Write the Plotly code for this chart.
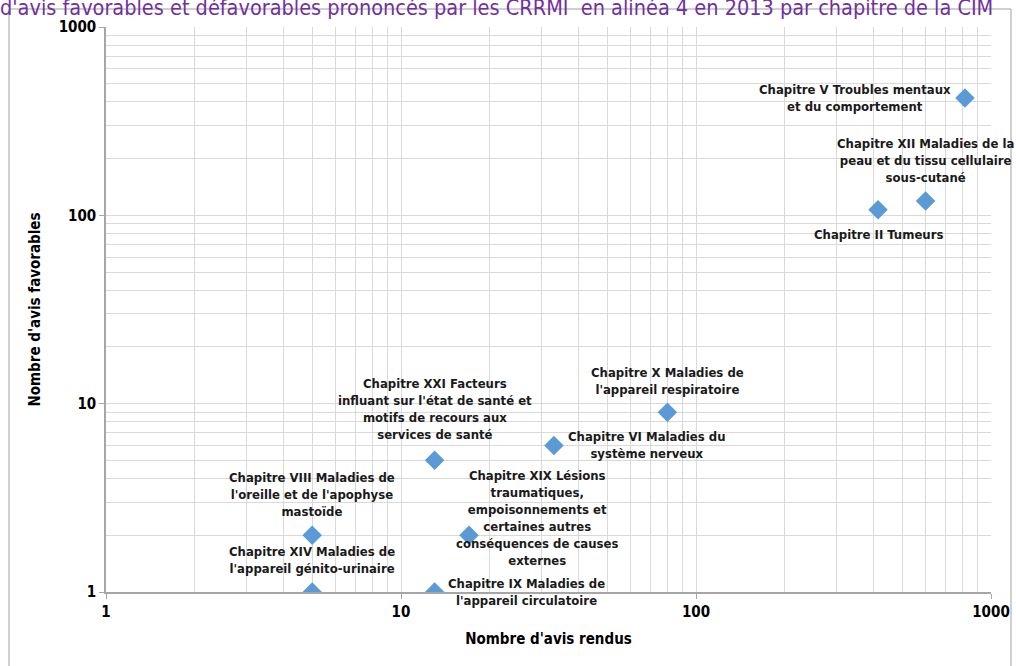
import plotly.graph_objects as go
import numpy as np

labels = [
    "Chapitre V Troubles mentaux<br>et du comportement",
    "Chapitre XII Maladies de la<br>peau et du tissu cellulaire<br>sous-cutané",
    "Chapitre II Tumeurs",
    "Chapitre X Maladies de<br>l'appareil respiratoire",
    "Chapitre VI Maladies du<br>système nerveux",
    "Chapitre XXI Facteurs<br>influant sur l'état de santé et<br>motifs de recours aux<br>services de santé",
    "Chapitre XIX Lésions<br>traumatiques,<br>empoisonnements et<br>certaines autres<br>conséquences de causes<br>externes",
    "Chapitre VIII Maladies de<br>l'oreille et de l'apophyse<br>mastoïde",
    "Chapitre XIV Maladies de<br>l'appareil génito-urinaire",
    "Chapitre IX Maladies de<br>l'appareil circulatoire",
]
avis_rendus = [816, 600, 414, 80, 33, 13, 17, 5, 5, 13]
avis_favorables = [420, 119, 107, 9, 6, 5, 2, 2, 1, 1]

# label offsets in pixels (xshift, yshift)
offsets = [(-110, 0), (0, 41), (0, -25), (0, 31), (93, 0), (0, 51), (68, 17), (0, 41), (0, 32), (92, 0)]

FONT = "DejaVu Sans Condensed, Arial Narrow, sans-serif"
GRID = "#D9D9D9"
AXIS = "#A6A6A6"

fig = go.Figure()
fig.add_trace(go.Scatter(
    x=avis_rendus, y=avis_favorables, mode="markers",
    marker=dict(symbol="diamond", size=15, color="#5B9BD5"),
    hoverinfo="text", text=labels, showlegend=False,
))

for lab, xv, yv, (dx, dy) in zip(labels, avis_rendus, avis_favorables, offsets):
    fig.add_annotation(
        x=np.log10(xv), y=np.log10(yv), xref="x", yref="y", text=lab,
        showarrow=False, xshift=dx, yshift=dy, align="center",
        font=dict(family=FONT, size=13, color="#1a1a1a", weight="bold"),
    )

fig.add_annotation(
    text="d'avis favorables et défavorables prononcés par les CRRMI  en alinéa 4 en 2013 par chapitre de la CIM",
    xref="paper", yref="paper", x=(-2 - 106) / 885, y=1 + (27 - 22) / 565,
    xanchor="left", yanchor="bottom", showarrow=False,
    font=dict(family=FONT, size=21.5, color="#7030A0"),
)

fig.add_shape(type="rect", xref="paper", yref="paper",
              x0=(9 - 106) / 885, x1=(1011 - 106) / 885,
              y0=-0.3, y1=1 + (27 - 9) / 565,
              line=dict(color="#A0A0A0", width=1))

axis_common = dict(
    type="log", range=[0, 3], dtick=1, automargin=False,
    showgrid=True, gridcolor=GRID, gridwidth=1,
    minor=dict(showgrid=True, gridcolor=GRID, dtick="D1", ticks=""),
    showline=True, linecolor=AXIS, linewidth=1.5,
    ticks="outside", ticklen=5, tickcolor=AXIS,
    tickfont=dict(family=FONT, size=15, color="#000000", weight="bold"),
    zeroline=False,
)

fig.update_xaxes(**axis_common,
                 title=dict(text="Nombre d'avis rendus", standoff=14,
                            font=dict(family=FONT, size=15, color="#000000", weight="bold")))
fig.update_yaxes(**axis_common,
                 title=dict(text="Nombre d'avis favorables", standoff=14,
                            font=dict(family=FONT, size=15, color="#000000", weight="bold")))

fig.update_layout(
    width=1016, height=666,
    margin=dict(l=106, r=25, t=27, b=74),
    plot_bgcolor="white", paper_bgcolor="white",
)

fig.write_html("out.html", config={"displayModeBar": False},
               post_script="document.body.style.margin='0';document.body.style.overflow='hidden';")
